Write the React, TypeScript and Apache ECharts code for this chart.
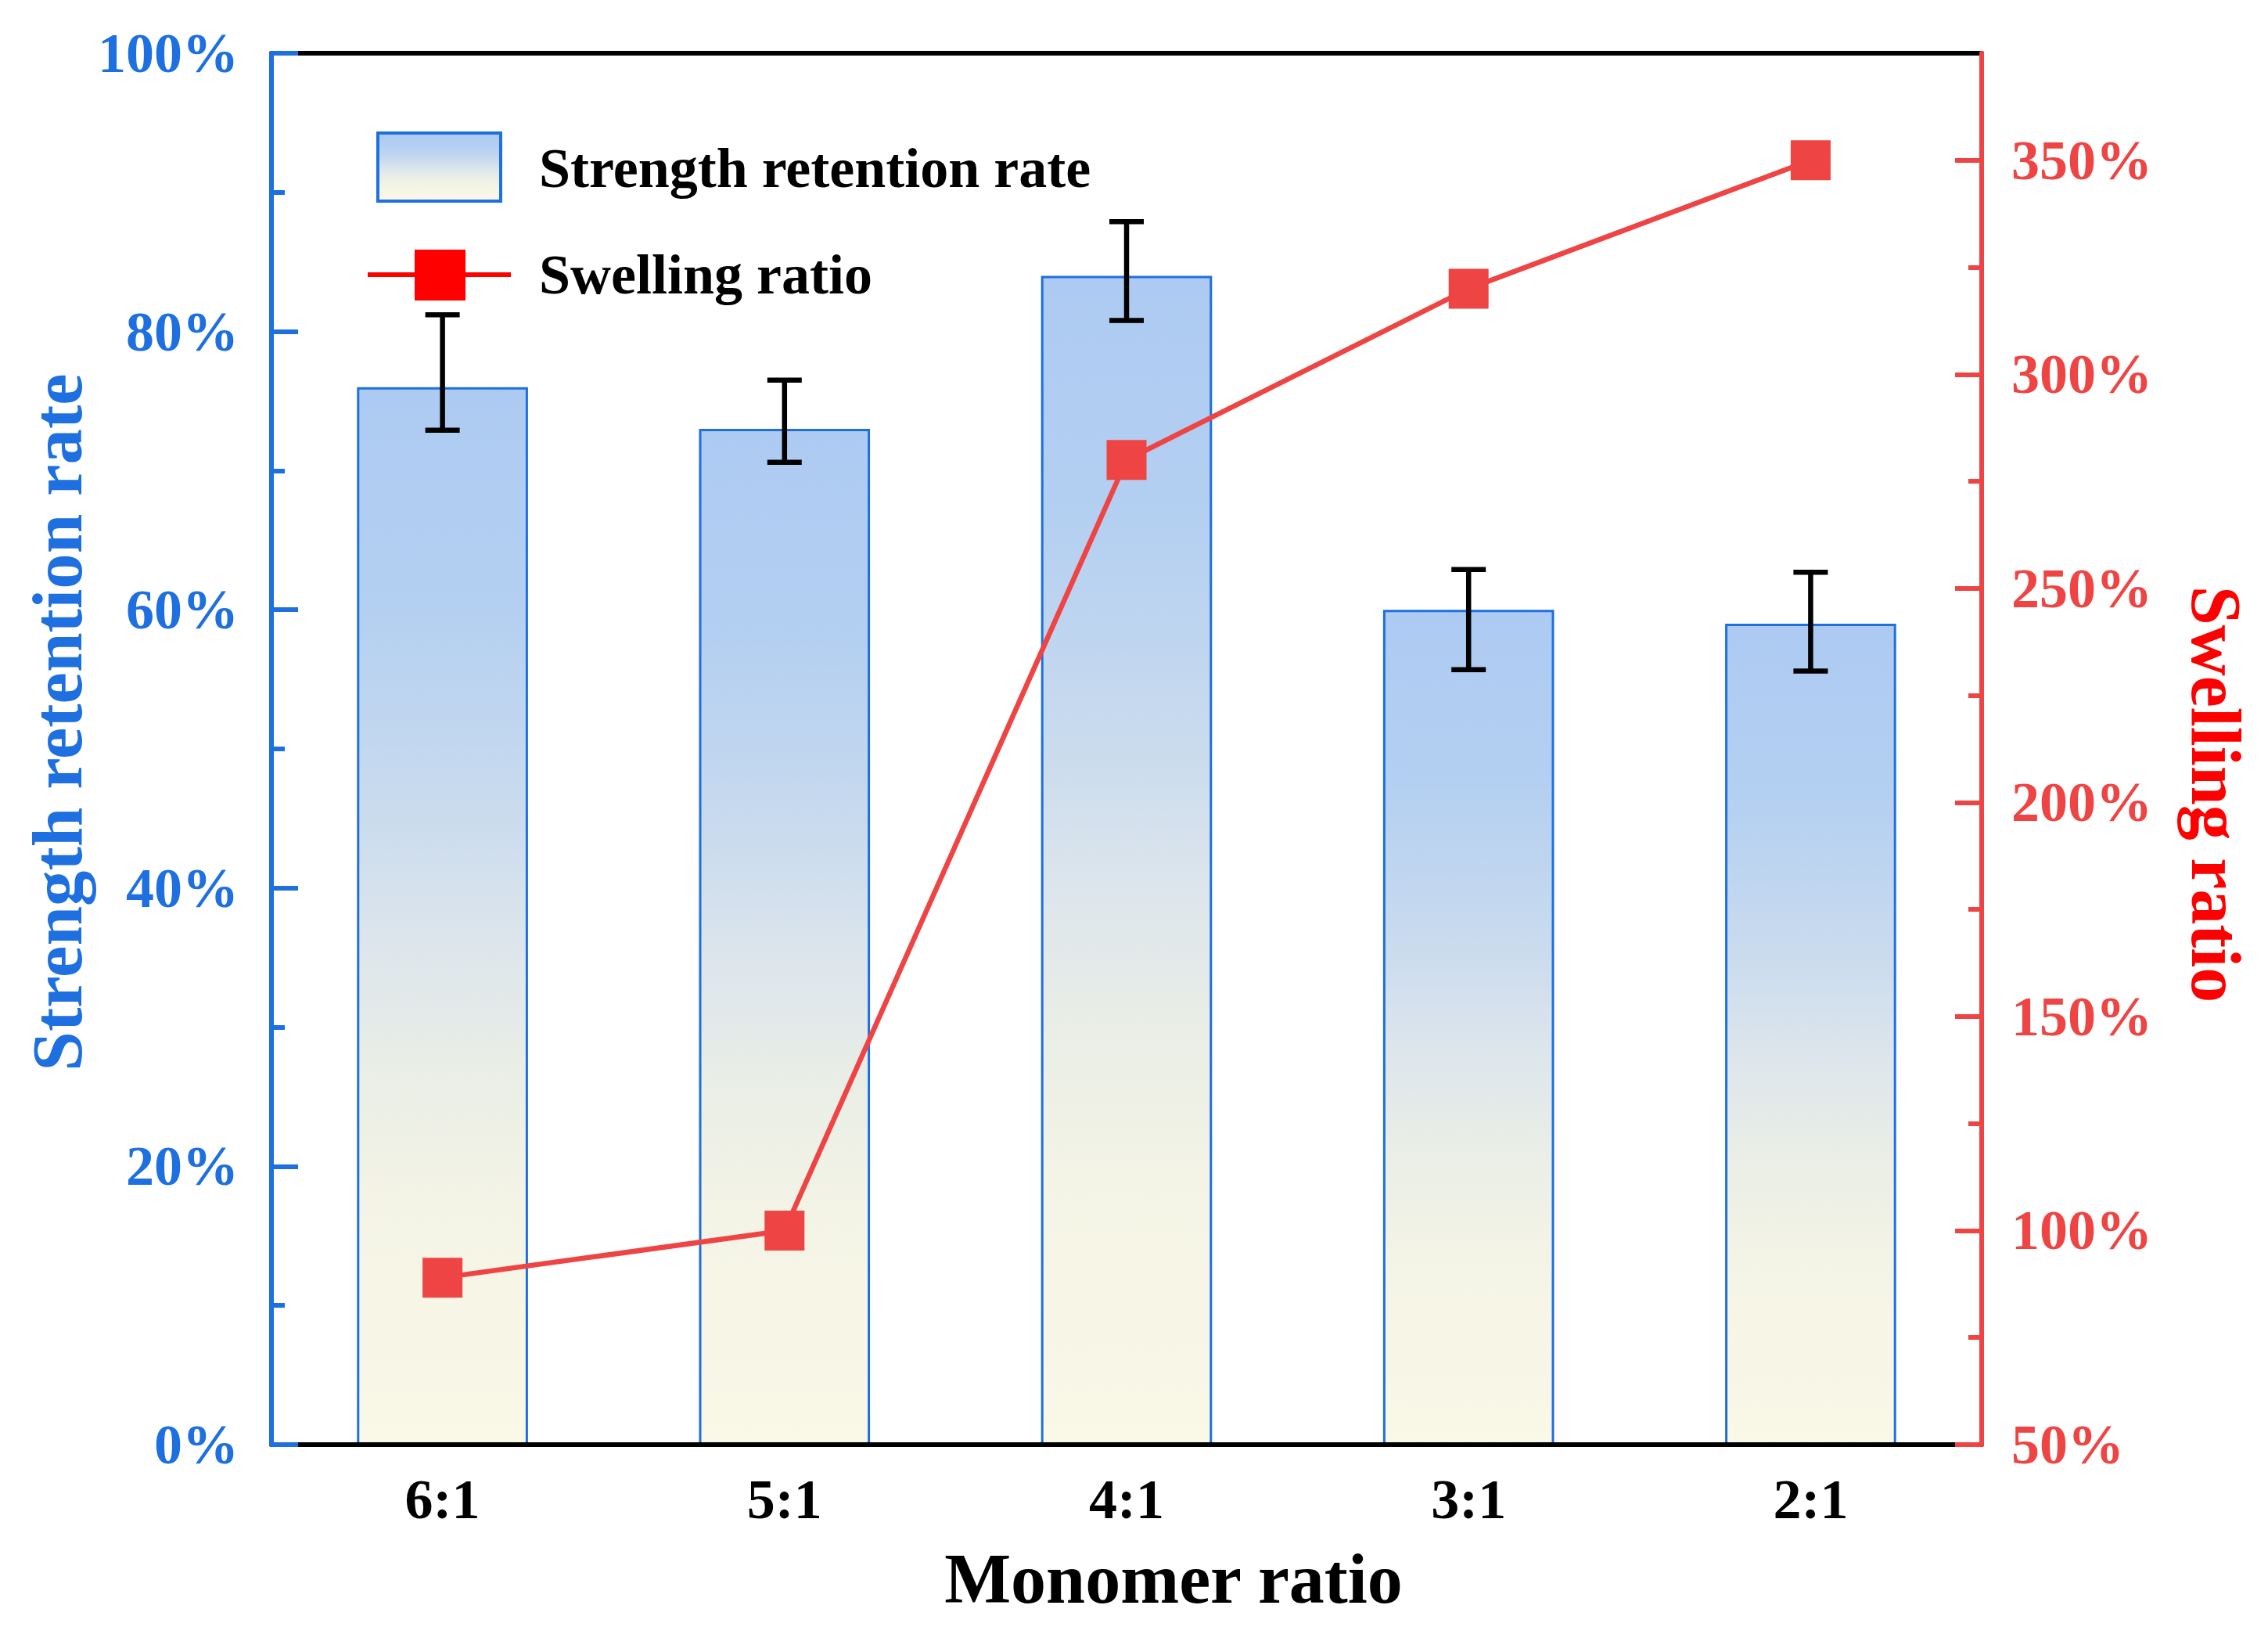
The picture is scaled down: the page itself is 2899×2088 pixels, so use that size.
import React, { useEffect, useRef } from "react";
import * as echarts from "echarts";

// ---- data ----
const categories = ["6:1", "5:1", "4:1", "3:1", "2:1"];
const strengthRetention = [76.0, 73.0, 84.0, 60.0, 59.0];
const strengthErrUpper = [81.2, 76.5, 87.9, 62.9, 62.7];
const strengthErrLower = [72.9, 70.6, 80.8, 55.7, 55.6];
const swellingRatio = [89, 100, 280, 320, 350];
const rightMajorTicks = [50, 100, 150, 200, 250, 300, 350];
const rightMinorTicks = [75, 125, 175, 225, 275, 325];

const FONT = '"Liberation Serif", "Times New Roman", serif';
const BLUE = "#1E6FE0";
const RED = "#EF4444";
const PURE_RED = "#FF0000";

const gradientStops = [
  { offset: 0, color: "#ADCAF2" },
  { offset: 0.2, color: "#B3CFF1" },
  { offset: 0.39, color: "#C8DAEE" },
  { offset: 0.52, color: "#DCE5EC" },
  { offset: 0.65, color: "#EAEEE6" },
  { offset: 0.78, color: "#F4F4E6" },
  { offset: 1, color: "#FAF8E7" },
];

export default function App() {
  const ref = useRef<HTMLDivElement>(null);

  useEffect(() => {
    document.body.style.margin = "0";
    if (!ref.current) return;
    const chart = echarts.init(ref.current, null, { renderer: "svg" });

    const errData = categories.map((_, i) => [i, strengthErrLower[i], strengthErrUpper[i]]);

    const baseX = {
      type: "category",
      data: categories,
      gridIndex: 0,
      z: 5,
      splitLine: { show: false },
    };
    const AW = 6;

    const option: any = {
      animation: false,
      backgroundColor: "#ffffff",
      grid: { left: 347, right: 366, top: 68, bottom: 242, containLabel: false, outerBoundsMode: "none" },
      xAxis: [
        {
          ...baseX,
          position: "bottom",
          axisLine: { onZero: false, lineStyle: { color: "#000", width: AW } },
          axisTick: { alignWithLabel: true, inside: true, length: 33, lineStyle: { color: "#000", width: AW } },
          axisLabel: { color: "#000", fontSize: 72, fontWeight: "bold", fontFamily: FONT, margin: 34 },
        },
        {
          ...baseX,
          position: "bottom",
          axisLine: { show: false, onZero: false },
          axisTick: { alignWithLabel: false, inside: true, length: 17, lineStyle: { color: "#000", width: AW } },
          axisLabel: { show: false },
        },
        {
          ...baseX,
          position: "top",
          axisLine: { onZero: false, lineStyle: { color: "#000", width: AW } },
          axisTick: { alignWithLabel: true, inside: true, length: 33, lineStyle: { color: "#000", width: AW } },
          axisLabel: { show: false },
        },
        {
          ...baseX,
          position: "top",
          axisLine: { show: false, onZero: false },
          axisTick: { alignWithLabel: false, inside: true, length: 17, lineStyle: { color: "#000", width: AW } },
          axisLabel: { show: false },
        },
      ],
      yAxis: [
        {
          type: "value",
          position: "left",
          min: 0,
          max: 100,
          interval: 20,
          z: 6,
          axisLine: { show: true, lineStyle: { color: BLUE, width: AW } },
          axisTick: { show: true, inside: true, length: 34, lineStyle: { color: BLUE, width: AW } },
          minorTick: { show: true, splitNumber: 2, length: 17, lineStyle: { color: BLUE, width: AW } },
          axisLabel: {
            formatter: "{value}%",
            color: BLUE,
            fontSize: 72,
            fontWeight: "bold",
            fontFamily: FONT,
            margin: 42,
          },
          splitLine: { show: false },
        },
        {
          type: "value",
          position: "right",
          min: 50,
          max: 375,
          z: 6,
          axisLine: { show: true, lineStyle: { color: RED, width: AW } },
          axisTick: { show: true, inside: true, length: 34, customValues: rightMajorTicks, lineStyle: { color: RED, width: AW } },
          axisLabel: {
            customValues: rightMajorTicks,
            formatter: "{value}%",
            color: RED,
            fontSize: 72,
            fontWeight: "bold",
            fontFamily: FONT,
            margin: 38,
          },
          splitLine: { show: false },
        },
        {
          type: "value",
          position: "right",
          min: 50,
          max: 375,
          z: 6,
          axisLine: { show: false },
          axisTick: { show: true, inside: true, length: 17, customValues: rightMinorTicks, lineStyle: { color: RED, width: AW } },
          axisLabel: { show: false },
          splitLine: { show: false },
        },
      ],
      series: [
        {
          name: "Strength retention rate",
          type: "bar",
          xAxisIndex: 0,
          yAxisIndex: 0,
          data: strengthRetention,
          barWidth: "50%",
          z: 2,
          itemStyle: {
            color: new echarts.graphic.LinearGradient(0, 0, 0, 1, gradientStops),
            borderColor: BLUE,
            borderWidth: 3,
          },
        },
        {
          name: "error",
          type: "custom",
          xAxisIndex: 0,
          yAxisIndex: 0,
          z: 3,
          data: errData,
          encode: { x: 0, y: [1, 2] },
          renderItem: (params: any, api: any) => {
            const x = api.value(0);
            const lo = api.coord([x, api.value(1)]);
            const hi = api.coord([x, api.value(2)]);
            const half = 22;
            const style = { stroke: "#000", lineWidth: 6.5, fill: "none" };
            return {
              type: "group",
              children: [
                { type: "line", shape: { x1: hi[0], y1: hi[1], x2: lo[0], y2: lo[1] }, style },
                { type: "line", shape: { x1: hi[0] - half, y1: hi[1], x2: hi[0] + half, y2: hi[1] }, style },
                { type: "line", shape: { x1: lo[0] - half, y1: lo[1], x2: lo[0] + half, y2: lo[1] }, style },
              ],
            };
          },
        },
        {
          name: "Swelling ratio",
          type: "line",
          xAxisIndex: 0,
          yAxisIndex: 1,
          data: swellingRatio,
          z: 4,
          symbol: "rect",
          symbolSize: 51,
          itemStyle: { color: RED },
          lineStyle: { color: RED, width: 6.5 },
        },
      ],
      graphic: [
        // legend
        {
          type: "rect",
          shape: { x: 483, y: 170, width: 157, height: 87 },
          style: {
            fill: new echarts.graphic.LinearGradient(0, 0, 0, 1, gradientStops),
            stroke: BLUE,
            lineWidth: 4,
          },
          z: 10,
        },
        {
          type: "text",
          x: 689,
          y: 215,
          style: {
            text: "Strength retention rate",
            font: `bold 72px ${FONT}`,
            fill: "#000",
            verticalAlign: "middle",
          },
          z: 10,
        },
        {
          type: "line",
          shape: { x1: 470, y1: 351, x2: 653, y2: 351 },
          style: { stroke: PURE_RED, lineWidth: 6 },
          z: 10,
        },
        {
          type: "rect",
          shape: { x: 530, y: 319, width: 65, height: 65 },
          style: { fill: PURE_RED },
          z: 11,
        },
        {
          type: "text",
          x: 689,
          y: 351,
          style: {
            text: "Swelling ratio",
            font: `bold 72px ${FONT}`,
            fill: "#000",
            verticalAlign: "middle",
          },
          z: 10,
        },
        // axis titles
        {
          type: "text",
          x: 73,
          y: 923,
          rotation: Math.PI / 2,
          style: {
            text: "Strength retention rate",
            font: `bold 91px ${FONT}`,
            fill: BLUE,
            align: "center",
            verticalAlign: "middle",
          },
        },
        {
          type: "text",
          x: 2832,
          y: 1015,
          rotation: -Math.PI / 2,
          style: {
            text: "Swelling ratio",
            font: `bold 90px ${FONT}`,
            fill: PURE_RED,
            align: "center",
            verticalAlign: "middle",
          },
        },
        {
          type: "text",
          x: 1500,
          y: 2017,
          style: {
            text: "Monomer ratio",
            font: `bold 90px ${FONT}`,
            fill: "#000",
            align: "center",
            verticalAlign: "middle",
          },
        },
      ],
    };

    chart.setOption(option);
    return () => chart.dispose();
  }, []);

  return <div ref={ref} style={{ width: 2899, height: 2088 }} />;
}
